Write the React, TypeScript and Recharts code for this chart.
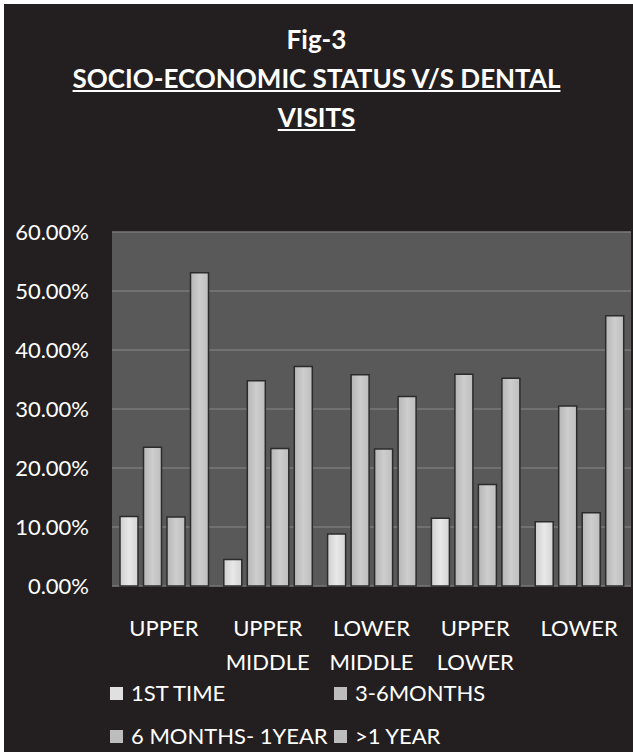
import React from 'react';
import { BarChart, Bar, XAxis, YAxis, CartesianGrid } from 'recharts';

const CATEGORIES = [['UPPER'], ['UPPER', 'MIDDLE'], ['LOWER', 'MIDDLE'], ['UPPER', 'LOWER'], ['LOWER']];
const FIRST_TIME = [11.8, 4.5, 8.8, 11.5, 10.9];
const THREE_SIX = [23.5, 34.8, 35.8, 35.9, 30.5];
const SIX_ONE = [11.7, 23.3, 23.2, 17.2, 12.4];
const OVER_ONE = [53.1, 37.2, 32.1, 35.2, 45.8];
const Y_TICKS = [0, 10, 20, 30, 40, 50, 60];

const SERIES = [
    { key: 'first', name: '1ST TIME', fill: 'url(#gLight)', swatch: '#e0e0e0' },
    { key: 'threeSix', name: '3-6MONTHS', fill: 'url(#gGray)', swatch: '#bdbdbd' },
    { key: 'sixOne', name: '6 MONTHS- 1YEAR', fill: 'url(#gGray)', swatch: '#bdbdbd' },
    { key: 'overOne', name: '>1 YEAR', fill: 'url(#gGray)', swatch: '#bdbdbd' },
];

const data = CATEGORIES.map((c, i) => ({
    name: c.join('|'),
    first: FIRST_TIME[i],
    threeSix: THREE_SIX[i],
    sixOne: SIX_ONE[i],
    overOne: OVER_ONE[i],
}));

const FONT = 'Lato, "Open Sans", sans-serif';

function XTick({ x, y, payload }: any) {
    const lines = String(payload.value).split('|');
    return (
        <g>
            {lines.map((l, i) => (
                <text key={i} x={x} y={y + 42 + i * 33.5} textAnchor="middle" fill="#fff" fontSize={22} fontFamily={FONT}>
                    {l}
                </text>
            ))}
        </g>
    );
}

export default function App() {
    return (
        <div style={{ position: 'absolute', left: 0, top: 0, width: 633, height: 752, background: '#fff', overflow: 'hidden' }}>
            <div style={{ position: 'absolute', left: 4, top: 4, width: 629, height: 748, background: '#231f20' }} />
            <div style={{ position: 'absolute', left: 0, top: 20, width: 633, textAlign: 'center', color: '#fff', fontFamily: FONT, fontWeight: 700, fontSize: 26, lineHeight: '39px' }}>
                <div>Fig-3</div>
                <div style={{ textDecoration: 'underline' }}>SOCIO-ECONOMIC STATUS V/S DENTAL</div>
                <div style={{ textDecoration: 'underline' }}>VISITS</div>
            </div>
            <div style={{ position: 'absolute', left: 0, top: 0 }}>
                <BarChart width={633} height={752} data={data} margin={{ top: 232, right: 2, left: 0, bottom: 136 }} barSize={18} barGap={5.5}>
                    <defs>
                        <linearGradient id="gLight" x1="0" y1="0" x2="1" y2="0">
                            <stop offset="0%" stopColor="#cfcfcf" />
                            <stop offset="50%" stopColor="#e8e8e8" />
                            <stop offset="100%" stopColor="#d4d4d4" />
                        </linearGradient>
                        <linearGradient id="gGray" x1="0" y1="0" x2="1" y2="0">
                            <stop offset="0%" stopColor="#b6b6b6" />
                            <stop offset="50%" stopColor="#cdcdcd" />
                            <stop offset="100%" stopColor="#bebebe" />
                        </linearGradient>
                    </defs>
                    <CartesianGrid vertical={false} stroke="#7a7a7a" strokeWidth={1.5} fill="#595959" />
                    <XAxis dataKey="name" axisLine={false} tickLine={false} tick={<XTick />} interval={0} height={30} />
                    <YAxis
                        width={112}
                        domain={[0, 60]}
                        ticks={Y_TICKS}
                        axisLine={false}
                        tickLine={false}
                        tickSize={0}
                        tickMargin={23}
                        tickFormatter={(v: number) => v.toFixed(2) + '%'}
                        tick={{ fill: '#fff', fontSize: 22, fontFamily: FONT }}
                    />
                    {SERIES.map(s => (
                        <Bar key={s.key} dataKey={s.key} name={s.name} fill={s.fill} stroke="#2b2b2b" strokeWidth={1.5} isAnimationActive={false} />
                    ))}
                </BarChart>
            </div>
            <div style={{ position: 'absolute', left: 110, top: 680, display: 'grid', gridTemplateColumns: '224px 220px', rowGap: 17, fontFamily: FONT, fontSize: 22, lineHeight: '26px', color: '#fff' }}>
                {SERIES.map(s => (
                    <div key={s.key} style={{ display: 'flex', alignItems: 'center', whiteSpace: 'nowrap' }}>
                        <span style={{ width: 13, height: 13, background: s.swatch, marginRight: 8, display: 'inline-block' }} />
                        {s.name}
                    </div>
                ))}
            </div>
        </div>
    );
}
